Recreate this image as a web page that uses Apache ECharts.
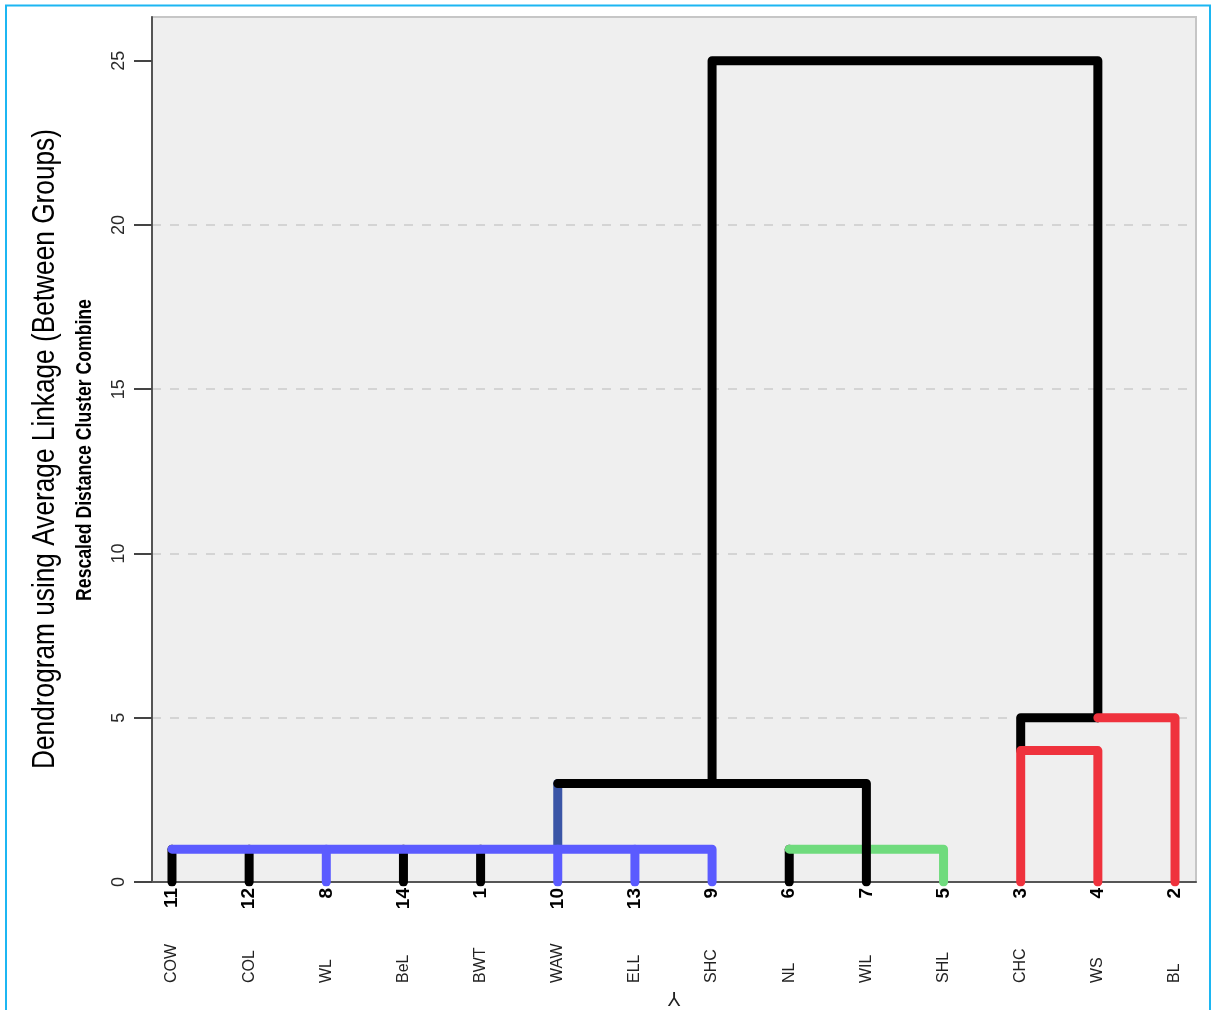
<!DOCTYPE html>
<html>
<head>
<meta charset="utf-8">
<script src="https://cdn.jsdelivr.net/npm/echarts@6/dist/echarts.min.js"></script>
<style>
html, body { margin: 0; padding: 0; background: #fff; }
#main { width: 1211px; height: 1010px; }
</style>
</head>
<body>
<div id="main"></div>
<script>
// leaves in dendrogram order
var leafIds = ['11', '12', '8', '14', '1', '10', '13', '9', '6', '7', '5', '3', '4', '2'];
var leafNames = ['COW', 'COL', 'WL', 'BeL', 'BWT', 'WAW', 'ELL', 'SHC', 'NL', 'WIL', 'SHL', 'CHC', 'WS', 'BL'];
var yTicks = [0, 5, 10, 15, 20, 25];

// links as polylines of [leaf position, rescaled distance]
var blackStubs = [
    [[0, 0], [0, 1]],
    [[1, 0], [1, 1]],
    [[3, 0], [3, 1]],
    [[4, 0], [4, 1]],
    [[8, 0], [8, 1]]
];
var navyLinks = [
    [[5, 1], [5, 3]]
];
var blueLinks = [
    [[0, 1], [7, 1], [7, 0]],
    [[2, 0], [2, 1]],
    [[5, 0], [5, 1]],
    [[6, 0], [6, 1]]
];
var greenLinks = [
    [[8, 1], [10, 1], [10, 0]]
];
var blackLinks = [
    [[5, 3], [9, 3], [9, 0]],
    [[7, 3], [7, 25], [12, 25], [12, 5]],
    [[11, 4], [11, 5], [12, 5]]
];
var redLinks = [
    [[11, 0], [11, 4], [12, 4], [12, 0]],
    [[12, 5], [13, 5], [13, 0]]
];

var sans = '"Liberation Sans", Arial, sans-serif';

var chartDom = document.getElementById('main');
var myChart = echarts.init(chartDom, null, { renderer: 'canvas' });

var series = [];
function addLinks(links, color) {
    links.forEach(function (pts) {
        series.push({
            type: 'line',
            data: pts,
            showSymbol: false,
            symbol: 'none',
            silent: true,
            clip: true,
            lineStyle: { color: color, width: 9, cap: 'round', join: 'round' },
            z: 3
        });
    });
}
addLinks(blackStubs, '#000000');
addLinks(navyLinks, '#3a55a6');
addLinks(blueLinks, '#5b5bff');
addLinks(greenLinks, '#6fdb7d');
addLinks(blackLinks, '#000000');
addLinks(redLinks, '#ef323d');

var leafPos = leafIds.map(function (d, i) { return i; });

var option = {
    animation: false,
    backgroundColor: '#ffffff',
    grid: {
        left: 152,
        top: 17,
        right: 15,
        bottom: 128,
        show: true,
        backgroundColor: '#efefef',
        borderColor: '#c6c6c6',
        borderWidth: 2,
        containLabel: false,
        outerBoundsMode: 'none'
    },
    xAxis: [
        {
            type: 'value',
            min: -0.259,
            max: 13.272,
            position: 'bottom',
            axisLine: { show: true, onZero: false, lineStyle: { color: '#555', width: 2 } },
            axisTick: { show: false },
            splitLine: { show: false },
            axisLabel: {
                customValues: leafPos,
                formatter: function (v) { return leafIds[Math.round(v)]; },
                rotate: 90,
                margin: 6,
                fontFamily: sans,
                fontWeight: 'bold',
                fontSize: 19,
                color: '#000'
            }
        },
        {
            type: 'value',
            min: -0.259,
            max: 13.272,
            position: 'bottom',
            axisLine: { show: false },
            axisTick: { show: false },
            splitLine: { show: false },
            axisLabel: {
                customValues: leafPos,
                formatter: function (v) { return leafNames[Math.round(v)]; },
                rotate: 90,
                margin: 101,
                align: 'left',
                fontFamily: sans,
                fontSize: 16,
                color: '#222'
            }
        }
    ],
    yAxis: {
        type: 'value',
        min: 0,
        max: 26.33,
        interval: 5,
        axisLine: { show: true, onZero: false, lineStyle: { color: '#555', width: 2 } },
        axisTick: {
            show: true,
            customValues: yTicks,
            length: 18,
            lineStyle: { color: '#444', width: 2 }
        },
        axisLabel: {
            customValues: yTicks,
            rotate: 90,
            margin: 24,
            fontFamily: sans,
            fontSize: 18,
            color: '#2a2a2a'
        },
        splitLine: {
            show: true,
            showMaxLine: false,
            showMinLine: false,
            lineStyle: { color: '#d4d4d4', width: 2, type: [9, 9] }
        }
    },
    graphic: [
        {
            type: 'rect',
            shape: { x: 6, y: 5.5, width: 1204, height: 1030 },
            style: { fill: null, stroke: '#1cb6f2', lineWidth: 2 },
            silent: true
        },
        {
            type: 'text',
            x: 45,
            y: 449,
            rotation: Math.PI / 2,
            scaleX: 0.82,
            style: {
                text: 'Dendrogram using Average Linkage (Between Groups)',
                fontFamily: sans,
                fontSize: 32,
                fill: '#000',
                textAlign: 'center',
                textVerticalAlign: 'middle'
            }
        },
        {
            type: 'text',
            x: 85,
            y: 450,
            rotation: Math.PI / 2,
            scaleX: 0.82,
            style: {
                text: 'Rescaled Distance Cluster Combine',
                fontFamily: sans,
                fontWeight: 'bold',
                fontSize: 21.5,
                fill: '#000',
                textAlign: 'center',
                textVerticalAlign: 'middle'
            }
        },
        {
            type: 'text',
            x: 674,
            y: 998,
            rotation: Math.PI,
            style: {
                text: 'Y',
                fontFamily: sans,
                fontSize: 20,
                fill: '#222',
                textAlign: 'center',
                textVerticalAlign: 'middle'
            }
        }
    ],
    series: series
};

option && myChart.setOption(option);
</script>
</body>
</html>
